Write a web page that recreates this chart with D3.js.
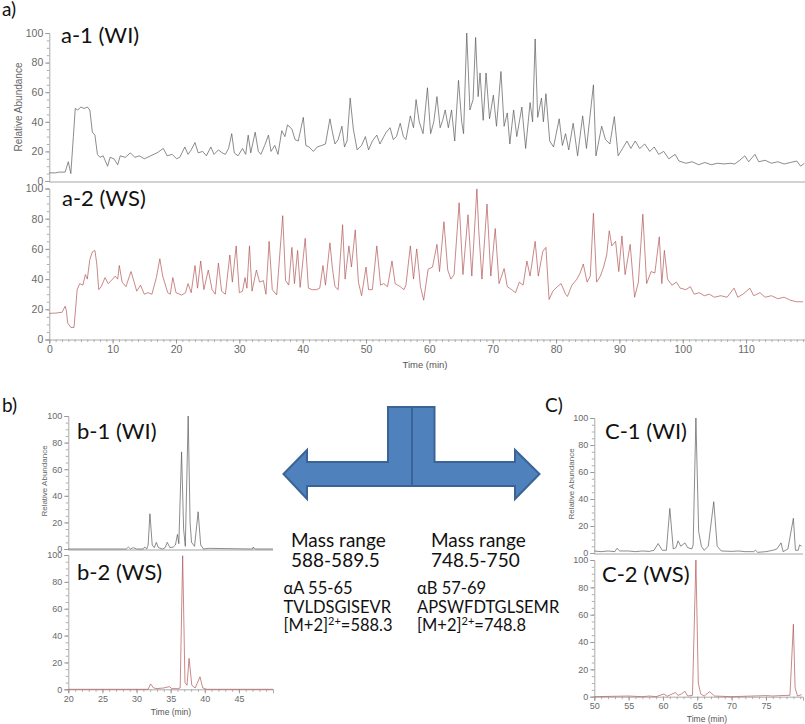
<!DOCTYPE html>
<html><head><meta charset="utf-8">
<script src="https://cdn.jsdelivr.net/npm/d3@7"></script>
<style>body{margin:0;background:#fff}svg{display:block}</style>
</head><body><svg id="c" width="805" height="724"></svg>
<script>
// ---------- DATA ----------
const yTicks = [0, 20, 40, 60, 80, 100];
const aTimeTicks = [0, 10, 20, 30, 40, 50, 60, 70, 80, 90, 100, 110];
const bTimeTicks = [20, 25, 30, 35, 40, 45];
const cTimeTicks = [50, 55, 60, 65, 70, 75];
const panelLabels = ["a-1 (WI)", "a-2 (WS)", "b-1 (WI)", "b-2 (WS)", "C-1 (WI)", "C-2 (WS)"];
const figLetters = ["a)", "b)", "C)"];
const massCol1 = ["Mass range", "588-589.5"];
const massCol2 = ["Mass range", "748.5-750"];
const pepCol1 = ["αA 55-65", "TVLDSGISEVR", "=588.3"];
const pepCol2 = ["αB 57-69", "APSWFDTGLSEMR", "=748.8"];

// a-1 (WI) total ion chromatogram [time, relative abundance]
const a1Points = [[0,5.5],[1,5.5],[1.5,6],[2.5,6],[3.0,13],[3.4,5],[3.8,30],[4.1,49],[4.5,48],[5,50],[5.5,49],[6,50],[6.4,48],[6.8,33],[7.2,31],[7.6,18],[8,16],[8.5,17],[9.2,10],[9.6,16],[10.2,15],[10.8,11],[11.2,17],[12,16],[12.8,19],[13.5,16],[14.2,17],[15,15],[16,17],[17,19],[18,22],[18.6,17],[19.4,18],[20.1,15],[20.6,16],[21.4,23],[21.9,18],[22.4,21],[23,26],[23.5,19],[24.2,20],[24.8,17],[25.5,23],[26,18],[26.7,21],[27.3,19],[27.8,18],[28.3,22],[28.8,32],[29.2,19],[29.8,17],[30.5,22],[31,18],[31.4,31],[31.8,19],[32.5,33],[33,20],[33.4,18],[34,24],[34.6,31],[35,20],[35.6,24],[36.1,18],[36.7,34],[37.2,30],[37.6,38],[38.3,35],[38.8,28],[39.3,27],[40.1,43],[40.5,24],[41,23],[41.7,20],[42.3,23],[43,24],[43.6,25],[44.3,42],[44.7,33],[45.1,25],[45.6,28],[46.2,37],[46.6,23],[47,27],[47.5,56],[48,35],[48.6,21],[49.3,24],[49.9,30],[50.4,21],[51,27],[51.7,31],[52.2,25],[52.8,30],[53.2,33],[53.8,36],[54.3,28],[54.8,30],[55.4,39],[55.9,30],[56.3,28],[57,44],[57.5,36],[57.9,55],[58.4,40],[59,32],[59.7,63],[60.2,32],[60.7,40],[61.2,57],[61.7,36],[62.1,41],[62.5,48],[63,36],[63.5,48],[64,27],[64.6,68],[65.1,40],[65.4,32],[65.9,100],[66.4,48],[66.9,55],[67.3,97],[67.7,57],[68,73],[68.5,41],[68.95,73],[69.5,42],[70.1,58],[70.6,37],[71.3,74],[71.8,37],[72.3,46],[72.7,25],[73.3,48],[73.8,30],[74.6,50],[75.2,22],[75.9,53],[76.3,40],[76.7,96],[77.1,43],[77.7,56],[78,40],[78.4,59],[79,27],[79.6,23],[80.5,42],[81,24],[81.5,32],[82,21],[82.7,39],[83.4,17],[84.2,44],[84.8,22],[85.9,65],[86.3,17],[87.2,37],[87.8,28],[88.5,25],[89.2,43.5],[89.8,17],[90.5,22],[91.2,27],[91.8,22],[92.5,27],[93.2,22],[94,25],[94.8,20],[95.5,23],[96.2,18],[97,20],[97.8,15],[98.8,18],[99.4,13.5],[100.5,12],[101.5,13],[102.5,11],[103.5,12.5],[104.5,11],[105.5,12],[106.5,11.5],[107.5,12],[108.2,11.5],[109,14],[109.8,17],[110.4,13],[111.4,18],[112,13],[113,14],[114,12],[115,13],[116,11.5],[117,12.5],[118,13.5],[118.6,10],[119.2,12]];

// a-2 (WS)
const a2Points = [[0,17.3],[1,17.5],[2,18],[2.5,22],[2.7,19],[2.9,11],[3.4,8],[3.9,8],[4.4,33],[4.8,37],[5.3,36],[5.7,43],[6,40],[6.4,53],[6.8,58],[7.2,59],[7.5,50],[7.8,33],[8.2,35],[8.8,41],[9.3,37],[10,40],[10.4,42],[10.8,40],[11.05,49],[11.5,38],[12.1,35],[12.9,45],[13.4,38],[13.8,32],[14.4,36],[15,30],[15.6,31],[16.2,30],[16.9,41],[17.45,53.5],[17.9,42],[18.7,31],[19.1,30],[19.5,41],[20,31],[20.9,29.4],[21.5,31],[21.9,37],[22.4,31],[23,49],[23.4,34],[23.9,52],[24.4,33],[25.1,46],[25.7,33],[26.2,30],[26.7,50.6],[27.2,32],[27.8,30],[28.5,56],[28.9,38],[29.5,62],[30,31],[30.5,32],[30.9,41],[31.2,34],[31.6,62],[32,32],[32.7,46],[33.2,38],[33.8,39],[34.2,30],[34.7,65],[35.2,33],[35.9,29.5],[36.85,82],[37.3,39],[37.8,36],[38.3,61],[38.7,37],[39.2,59],[39.6,34.5],[40.4,67],[40.9,34],[41.5,33],[42.2,33],[42.7,34],[43.2,49],[43.6,36],[44.3,64],[44.7,47],[45.1,35],[45.6,33],[46.3,76],[46.7,40],[47.3,62],[47.7,48],[48.3,72.6],[48.8,38],[49.3,29],[50,48],[50.4,33],[51,33],[51.7,62],[52.3,36],[52.8,37],[53.4,35],[54.1,52],[54.6,37],[55.4,35],[56,33],[56.3,36],[57,62],[57.5,40],[58,60],[58.6,35],[59.1,26],[59.8,46.5],[60.5,48],[61.2,63],[61.6,45],[62.3,78],[62.9,46],[63.4,40],[63.9,43],[64.7,90.6],[65.3,43],[66.1,82.6],[66.7,42],[67.5,99.7],[67.8,72],[68.3,40],[69.1,89.7],[69.7,42],[70.4,73.5],[71,37],[71.8,47],[72.3,35],[73,33],[73.6,31],[74.2,38],[74.8,36],[75.4,52],[75.9,42],[76.7,65],[77.2,42],[77.9,58.3],[78.4,61],[78.9,26.5],[79.5,32],[80.2,35],[80.8,37],[81.5,30],[81.8,28.5],[82.5,36],[83.3,40],[83.8,44],[84.3,50],[84.9,38],[85.4,42],[85.9,83.6],[86.4,38],[87,42],[87.5,48],[88,56],[88.4,72],[88.8,62],[89.4,65],[89.9,45],[90.4,68.6],[90.9,43],[91.7,63],[92.4,28],[93,38],[93.7,83],[94.3,37],[95,45],[95.6,44],[96.3,68],[96.7,37],[97.1,59],[97.6,40],[98.3,36],[99,38],[99.6,34],[100.5,33],[101.2,35],[101.8,30],[102.6,31],[103.4,29],[104.2,30],[105,28],[106,29],[107,28],[108.1,34],[108.7,28],[109.5,30],[110.6,34],[111.2,29],[112.2,31],[113,28],[114,29],[115,27],[116,28],[117,26],[118,25],[119,25]];

// b-1 (WI) extracted ion chromatogram 588-589.5
const b1Points = [[20,0],[28.5,0],[28.8,1.5],[29.1,0],[29.5,1],[30,0],[31,0],[31.2,1.5],[31.5,0],[31.7,3],[31.96,26.5],[32.3,3],[32.6,1],[32.9,5],[33.2,1],[33.8,0],[34.2,1],[34.5,5],[34.9,1],[35.4,1.5],[35.7,3],[36,11],[36.2,4],[36.6,73],[36.9,15],[37.15,2],[37.57,100],[37.85,20],[38.06,5],[38.5,2],[39.03,28],[39.4,3],[39.8,0],[40.5,0.5],[47,0],[47.1,1.5],[47.3,0],[50,0]];
// b-2 (WS)
const b2Points = [[20,0],[31.7,0],[32.06,4],[32.5,1],[33,0.5],[34,1],[34.8,2],[35.2,0.5],[36,0.5],[36.4,1],[36.76,99.5],[37.1,5],[37.4,3],[37.7,23],[38.1,3],[38.6,1],[39.3,9.3],[39.7,1],[40.3,0],[50,0]];
// C-1 (WI) extracted ion chromatogram 748.5-750
const c1Points = [[50,1.5],[51,1],[52,1.5],[53,1],[53.3,3.5],[53.7,1.5],[55,1.5],[56,1],[57,1.5],[58,1.2],[58.7,2],[59.3,7],[59.9,2],[60.5,2],[61,33],[61.5,3],[61.9,4],[62.2,9],[62.6,5],[63.2,7.5],[63.6,4],[64.2,3],[64.4,6],[64.8,100],[65.2,16],[65.6,5],[66,2],[66.6,5],[67.4,38],[67.9,5],[68.5,1.5],[70,1.2],[71,1.5],[72,1],[73.2,1],[73.5,2],[73.8,0.5],[75,1],[76,2],[76.6,3],[77.2,7.5],[77.5,1],[78.2,3],[79,25.7],[79.3,2],[79.7,2],[79.9,6],[80.2,5]];
// C-2 (WS)
const c2Points = [[50,0],[55,0.5],[57,0],[58,0.5],[59,0],[60.15,2],[60.6,0.3],[61.8,3],[62.2,1],[62.7,2],[63.2,4],[63.6,0.5],[64.3,1],[64.8,100],[65.15,10],[65.5,2],[66,0.5],[66.8,3.7],[67.5,0.5],[70,0],[75,0.8],[76,0.5],[77,0.8],[78.5,1],[79,53],[79.25,6.5],[79.6,0.5],[80.2,1.5]];

// ---------- DRAW ----------
const svg = d3.select("#c");
const LBL = "Lato, 'Open Sans', sans-serif";
const AX = "'Liberation Sans', Arial, sans-serif";
const GREY_LINE = "#5a5a5a", RED_LINE = "#b25656";

const panels = [
  {pts:a1Points, xr:[49.3,805], xd:[0,119.3], yr:[181,33], col:GREY_LINE, label:panelLabels[0], lx:61, ly:43, fs:10.5, xTicks:null, ytitle:[18,107,10]},
  {pts:a2Points, xr:[49.3,805], xd:[0,119.3], yr:[339.5,188.5], col:RED_LINE, label:panelLabels[1], lx:62, ly:206, fs:10.5, xTicks:aTimeTicks, xTitle:[425,368,9.5]},
  {pts:b1Points, xr:[68.3,273], xd:[20,50], yr:[549,416], col:GREY_LINE, label:panelLabels[2], lx:77, ly:439, fs:9, xTicks:null, ytitle:[44,481,8]},
  {pts:b2Points, xr:[68.3,273], xd:[20,50], yr:[689.3,555], col:RED_LINE, label:panelLabels[3], lx:77, ly:580, fs:9, xTicks:bTimeTicks, xTitle:[171,715,8.5]},
  {pts:c1Points, xr:[594.3,803], xd:[50,80.4], yr:[553,418], col:GREY_LINE, label:panelLabels[4], lx:605, ly:439, fs:9, xTicks:null, ytitle:[571,484,8]},
  {pts:c2Points, xr:[594.3,803], xd:[50,80.4], yr:[696.7,560], col:RED_LINE, label:panelLabels[5], lx:602, ly:582, fs:9, xTicks:cTimeTicks, xTitle:[707,722,8.5]}
];

panels.forEach(p => {
  const x = d3.scaleLinear().domain(p.xd).range(p.xr);
  const y = d3.scaleLinear().domain([0,100]).range(p.yr);
  const g = svg.append("g");

  if (p.xTicks) {
    const minor = g.append("g").attr("transform", `translate(0,${p.yr[0]})`)
      .call(d3.axisBottom(x).tickValues(d3.range(Math.ceil(p.xd[0]), Math.floor(p.xd[1])+1, 1)).tickSize(2.5).tickFormat(""));
    minor.select(".domain").remove();
    minor.selectAll("line").attr("stroke","#999").attr("stroke-width",0.8);
    const major = g.append("g").attr("transform", `translate(0,${p.yr[0]})`)
      .call(d3.axisBottom(x).tickValues(p.xTicks).tickSize(4).tickPadding(2));
    major.select(".domain").attr("stroke","#aaa").attr("stroke-width",1);
    major.selectAll("line").attr("stroke","#999");
    major.selectAll("text").attr("font-family",AX).attr("font-size",p.fs).attr("fill","#6a6a6a");
    svg.append("text").attr("x",p.xTitle[0]).attr("y",p.xTitle[1]).attr("text-anchor","middle")
      .attr("font-family",AX).attr("font-size",p.xTitle[2]).attr("fill","#555").text("Time (min)");
  } else {
    g.append("line").attr("x1",p.xr[0]).attr("x2",p.xr[1]).attr("y1",p.yr[0]+1).attr("y2",p.yr[0]+1)
      .attr("stroke","#d2d2d2").attr("stroke-width",2);
  }

  const yminor = g.append("g").attr("transform", `translate(${p.xr[0]},0)`)
    .call(d3.axisLeft(y).tickValues(d3.range(0,101,5)).tickSize(2.5).tickFormat(""));
  yminor.select(".domain").remove();
  yminor.selectAll("line").attr("stroke","#999").attr("stroke-width",0.8);
  const ymajor = g.append("g").attr("transform", `translate(${p.xr[0]},0)`)
    .call(d3.axisLeft(y).tickValues(yTicks).tickSize(4).tickPadding(2));
  ymajor.select(".domain").attr("stroke","#aaa");
  ymajor.selectAll("line").attr("stroke","#999");
  ymajor.selectAll("text").attr("font-family",AX).attr("font-size",p.fs).attr("fill","#6a6a6a");

  if (p.ytitle) {
    svg.append("text").attr("transform",`translate(${p.ytitle[0]},${p.ytitle[1]}) rotate(-90)`)
      .attr("text-anchor","middle").attr("dy","0.35em").attr("font-family",AX).attr("font-size",p.ytitle[2])
      .attr("fill","#666").text("Relative Abundance");
  }

  const line = d3.line().x(d => x(d[0])).y(d => y(Math.min(100, d[1])));
  g.append("path").datum(p.pts).attr("d", line).attr("fill","none")
    .attr("stroke", p.col).attr("stroke-width", 0.7).attr("stroke-linejoin","round");

  svg.append("text").attr("x",p.lx).attr("y",p.ly).attr("font-family",LBL).attr("font-size",22)
    .attr("fill","#111").text(p.label);
});

// figure letters
[[2,16],[2,412],[545,412]].forEach((pos,i) => {
  svg.append("text").attr("x",pos[0]).attr("y",pos[1]).attr("font-family",LBL).attr("font-size",19)
    .attr("fill","#111").text(figLetters[i]);
});

// T-shaped double arrow
const arrowFill = "#4f81bd", arrowStroke = "#3a6496";
const L = {tip:283.5, headBase:307, stemL:388, mid:412, stemR:434.5, headBaseR:515, tipR:539.5,
           top:407, shaftT:462, shaftB:486, headT:450, headB:499, cy:474};
svg.append("path").attr("d", d3.line()([
  [L.tip,L.cy],[L.headBase,L.headT],[L.headBase,L.shaftT],[L.stemL,L.shaftT],[L.stemL,L.top],
  [L.mid,L.top],[L.mid,L.shaftB],[L.headBase,L.shaftB],[L.headBase,L.headB]]) + "Z")
  .attr("fill",arrowFill).attr("stroke",arrowStroke).attr("stroke-width",2).attr("stroke-linejoin","miter");
svg.append("path").attr("d", d3.line()([
  [L.mid,L.top],[L.stemR,L.top],[L.stemR,L.shaftT],[L.headBaseR,L.shaftT],[L.headBaseR,L.headT],
  [L.tipR,L.cy],[L.headBaseR,L.headB],[L.headBaseR,L.shaftB],[L.mid,L.shaftB]]) + "Z")
  .attr("fill",arrowFill).attr("stroke",arrowStroke).attr("stroke-width",2).attr("stroke-linejoin","miter");

// text block
const TXT = "#111";
function txt(x, y, s, fs) {
  return svg.append("text").attr("x",x).attr("y",y).attr("font-family",LBL).attr("font-size",fs).attr("fill",TXT).text(s);
}
txt(291, 547, massCol1[0], 19); txt(291, 567, massCol1[1], 19);
txt(431, 547, massCol2[0], 19); txt(431, 567, massCol2[1], 19);
txt(283.5, 594, pepCol1[0], 16.5); txt(283.5, 613, pepCol1[1], 16.5);
txt(417, 594, pepCol2[0], 16.5); txt(417, 613, pepCol2[1], 16.5);
function ion(x, y, tail) {
  const t = svg.append("text").attr("x",x).attr("y",y).attr("font-family",LBL).attr("font-size",16.5).attr("fill",TXT);
  t.append("tspan").text("[M+2]");
  t.append("tspan").attr("dy",-6).attr("font-size",11).text("2+");
  t.append("tspan").attr("dy",6).text(tail);
}
ion(283.5, 631, pepCol1[2]);
ion(417, 631, pepCol2[2]);
</script></body></html>
